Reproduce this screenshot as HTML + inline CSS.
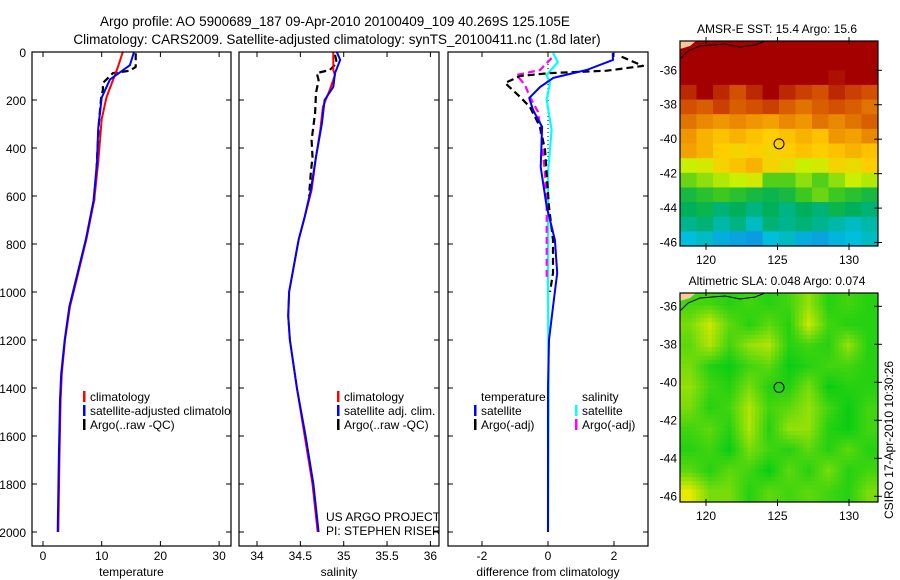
<!DOCTYPE html>
<html><head><meta charset="utf-8"><style>
body{margin:0;background:#fff;}
svg{display:block;font-family:"Liberation Sans",sans-serif;}
text{fill:#000;}
</style></head><body>
<svg id="fig" width="900" height="580" viewBox="0 0 900 580">
<text x="335" y="26" font-size="13.5" text-anchor="middle">Argo profile: AO 5900689_187 09-Apr-2010 20100409_109 40.269S 125.105E</text>
<text x="337" y="44" font-size="13.5" text-anchor="middle">Climatology: CARS2009. Satellite-adjusted climatology: synTS_20100411.nc (1.8d later)</text>
<g id="plots"></g>
<text transform="translate(893,440) rotate(-90)" font-size="12" text-anchor="middle">CSIRO 17-Apr-2010 10:30:26</text>
</svg>
<script>
// ---- data ----
const tempDepthClim=[0,60,190,280,460,620,780,950,1060,1200,1340,1450,1700,2000];
const tempClim=[13.6,12.8,10.8,10.0,9.4,8.7,7.4,5.7,4.6,3.75,3.2,3.0,2.8,2.6];
const tempDepthSat=[0,55,115,190,320,460,620,780,950,1060,1200,1340,1450,1700,2000];
const tempSat=[15.5,14.8,11.4,10.0,9.4,9.2,8.6,7.3,5.6,4.5,3.7,3.1,2.9,2.7,2.5];
const tempDepthArgo=[5,25,62,78,88,129,158,192,300,400,500,620];
const tempArgo=[15.8,15.8,15.8,14.8,11.9,10.2,10.2,9.9,9.5,9.3,9.1,8.7];
const salDepthClim=[0,12,75,96,158,229,325,437,575,687,783,1000,1100,1200,1400,1600,1800,2000];
const salClim=[34.88,34.88,34.88,34.90,34.84,34.76,34.73,34.68,34.63,34.55,34.48,34.37,34.36,34.38,34.46,34.55,34.64,34.70];
const salDepthSat=[0,33,88,146,200,296,437,575,687,783,1000,1100,1200,1400,1600,1800,2000];
const salSat=[34.92,34.96,34.90,34.88,34.78,34.75,34.68,34.62,34.55,34.48,34.37,34.36,34.38,34.46,34.56,34.65,34.71];
const salDepthArgo=[12,46,75,88,117,171,254,367,437,504,600];
const salArgo=[34.90,34.92,34.84,34.69,34.71,34.68,34.67,34.63,34.64,34.62,34.60];
const diffDepthSatT=[4,33,75,108,146,192,242,312,479,645,783,921,1062,1200,1400,2000];
const diffSatT=[1.96,1.97,1.17,0.16,-0.24,-0.57,-0.45,-0.18,-0.22,-0.04,0.21,0.28,0.15,0.03,0.0,0.0];
const diffDepthArgoT=[20,58,78,88,100,129,187,229,312,408,645,783,921,1000];
const diffArgoT=[2.23,2.88,1.78,0.06,-0.85,-1.30,-0.85,-0.55,-0.24,-0.09,0.03,0.15,0.15,0.06];
const diffDepthSatS=[4,42,96,129,200,325,504,700,1000,1400,2000];
const diffSatS=[0.15,0.3,-0.04,0.06,-0.04,0.11,0.0,0.0,0.0,0.02,0.0];
const diffDepthArgoS=[25,75,96,137,187,250,367,504,645,950];
const diffArgoS=[0.11,-0.24,-0.95,-0.7,-0.55,-0.3,-0.19,-0.09,-0.04,-0.04];
const depthTicks=[0,200,400,600,800,1000,1200,1400,1600,1800,2000];
const tempTicks=[0,10,20,30];
const salTicks=[34,34.5,35,35.5,36];
const salTickLabels=["34","34.5","35","35.5","36"];
const diffTicks=[-2,0,2];
const latTicks=[-36,-38,-40,-42,-44,-46];
const lonTicks=[120,125,130];
const sstGrid=[
[1,1,1,1,1,1,1,1,1,1,1,1],
[1,1,1,1,1,1,1,1,1,1,1,1],
[1,1,1,1,1,1,1,1,1,0.98,1,1],
[0.95,1,0.95,0.9,0.95,1,0.95,0.92,0.9,0.95,0.92,0.9],
[0.9,0.88,0.92,0.88,0.9,0.92,0.88,0.85,0.88,0.9,0.88,0.85],
[0.85,0.82,0.8,0.82,0.8,0.78,0.82,0.8,0.85,0.82,0.85,0.88],
[0.8,0.75,0.72,0.75,0.72,0.7,0.72,0.75,0.72,0.8,0.78,0.82],
[0.78,0.75,0.7,0.68,0.7,0.68,0.7,0.72,0.7,0.72,0.75,0.72],
[0.6,0.62,0.68,0.72,0.75,0.68,0.65,0.6,0.62,0.68,0.66,0.7],
[0.52,0.55,0.58,0.6,0.62,0.5,0.5,0.55,0.5,0.55,0.6,0.58],
[0.42,0.45,0.48,0.45,0.42,0.4,0.42,0.48,0.52,0.48,0.45,0.42],
[0.38,0.4,0.36,0.38,0.35,0.38,0.35,0.38,0.36,0.4,0.38,0.36],
[0.34,0.36,0.32,0.35,0.3,0.36,0.34,0.36,0.34,0.32,0.3,0.32],
[0.28,0.3,0.26,0.25,0.24,0.28,0.3,0.26,0.25,0.27,0.28,0.3]];
const slaGrid=[
[0.3,0.3,0.2,0.3,0.2,0.3,0.6,0.2,0.3,0.2],
[0.5,0.8,0.4,0.2,0.4,0.2,0.8,0.3,0.2,0.2],
[0.4,0.7,0.3,0.6,0.7,0.2,0.3,0.2,0.6,0.2],
[0.5,0.2,0.1,0.3,0.4,0.1,0.2,0.3,0.3,0.2],
[0.6,0.3,0.2,0.5,0.2,0.2,0.5,0.1,0.2,0.2],
[0.5,0.2,0.3,0.7,0.3,0.4,0.6,0.3,0.1,0.3],
[0.3,0.4,0.2,0.7,0.2,0.6,0.6,0.2,0.1,0.3],
[0.2,0.3,0.1,0.5,0.3,0.2,0.4,0.2,0.4,0.2],
[0.4,0.2,0.4,0.3,0.1,0.4,0.2,0.5,0.2,0.3],
[0.9,0.5,0.5,0.2,0.4,0.3,0.4,0.3,0.2,0.5]];
const argoLon=125.105, argoLat=-40.269;

// ---- helpers ----
const NS="http://www.w3.org/2000/svg";
const root=document.getElementById('plots');
function mk(tag,attrs,parent){const e=document.createElementNS(NS,tag);for(const k in attrs)e.setAttribute(k,attrs[k]);(parent||root).appendChild(e);return e;}
const yD=d=>52+d*0.24;
function panel(x0,x1,xs,ticks,labels,xlabel,name,showDepth){
  const g=mk('g',{});
  
  
  const cp=mk('clipPath',{id:'clip-'+name},g);
  mk('rect',{x:x0,y:52,width:x1-x0,height:494},cp);
  const series=mk('g',{'clip-path':'url(#clip-'+name+')'},g);
  const frame=mk('rect',{x:x0,y:52,width:x1-x0,height:494,fill:'none',stroke:'#000','stroke-width':1.2},g);
  
  
  depthTicks.forEach(d=>{
    mk('line',{x1:x0,x2:x0+5,y1:yD(d),y2:yD(d),stroke:'#000'},g);
    mk('line',{x1:x1-5,x2:x1,y1:yD(d),y2:yD(d),stroke:'#000'},g);
    if(showDepth){const t=mk('text',{x:x0-6,y:yD(d)+5,'font-size':12,'text-anchor':'end'},g);t.textContent=d;
      
      }
  });
  ticks.forEach((v,i)=>{
    const x=xs(v);
    mk('line',{x1:x,x2:x,y1:546,y2:541,stroke:'#000'},g);
    mk('line',{x1:x,x2:x,y1:52,y2:57,stroke:'#000'},g);
    const t=mk('text',{x:x,y:560,'font-size':12,'text-anchor':'middle'},g);t.textContent=labels[i];
    
    
  });
  const xl=mk('text',{x:(x0+x1)/2,y:576,'font-size':12,'text-anchor':'middle'},g);xl.textContent=xlabel;
  
  
  return series;
}
function line(parent,xs,vals,depths,color,w,dash,name){
  const pts=vals.map((v,i)=>xs(v).toFixed(1)+','+yD(depths[i]).toFixed(1)).join(' ');
  const p=mk('polyline',{points:pts,fill:'none',stroke:color,'stroke-width':w,'stroke-dasharray':dash||'none','stroke-linejoin':'round'},parent);
  
  
}
function legend(parent,x,y,items){
  items.forEach((it,i)=>{
    if(it.c) mk('rect',{x:x-7,y:y+i*14-6,width:2.5,height:11,fill:it.c},parent);
    const t=mk('text',{x:x,y:y+i*14+4,'font-size':12},parent);t.textContent=it.t;
    
    
  });
}

// ---- temperature panel ----
const xT=v=>43+v*5.87;
const gT=panel(32,231,xT,tempTicks,tempTicks.map(String),'temperature','temperature-panel',true);
line(gT,xT,tempArgo,tempDepthArgo,'#000',2.2,'7,4','argo-temperature-line');
line(gT,xT,tempClim,tempDepthClim,'#f00',2,null,'climatology-temperature-line');
line(gT,xT,tempSat,tempDepthSat,'#00f',2,null,'satellite-temperature-line');
legend(gT,90,397,[{t:'climatology',c:'#f00'},{t:'satellite-adjusted climatology',c:'#00f'},{t:'Argo(..raw -QC)',c:'#000'}]);

// ---- salinity panel ----
const xS=v=>257+(v-34)*86.7;
const gS=panel(239,439,xS,salTicks,salTickLabels,'salinity','salinity-panel',false);
line(gS,xS,salArgo,salDepthArgo,'#000',2.2,'7,4','argo-salinity-line');
line(gS,xS,salClim,salDepthClim,'#f00',2,null,'climatology-salinity-line');
line(gS,xS,salSat,salDepthSat,'#00f',2,null,'satellite-salinity-line');
legend(gS,344,397,[{t:'climatology',c:'#f00'},{t:'satellite adj. clim.',c:'#00f'},{t:'Argo(..raw -QC)',c:'#000'}]);
legend(gS,326,517,[{t:'US ARGO PROJECT'},{t:'PI: STEPHEN RISER'}]);

// ---- difference panel ----
const xDf=v=>548+v*33;
const gD=panel(448,648,xDf,diffTicks,diffTicks.map(String),'difference from climatology','difference-panel',false);
mk('line',{x1:xDf(0),x2:xDf(0),y1:52,y2:yD(1000),stroke:'#000','stroke-width':1,'stroke-dasharray':'1,3'},gD);
line(gD,xDf,diffSatS,diffDepthSatS,'#0ff',2.2,null,'satellite-salinity-diff-line');
line(gD,xDf,diffArgoS,diffDepthArgoS,'#f0f',2.2,'7,4','argo-salinity-diff-line');
line(gD,xDf,diffArgoT,diffDepthArgoT,'#000',2.2,'7,4','argo-temperature-diff-line');
line(gD,xDf,diffSatT,diffDepthSatT,'#00f',2,null,'satellite-temperature-diff-line');
legend(gD,481,397,[{t:'temperature'},{t:'satellite',c:'#00f'},{t:'Argo(-adj)',c:'#000'}]);
legend(gD,582,397,[{t:'salinity'},{t:'satellite',c:'#0ff'},{t:'Argo(-adj)',c:'#f0f'}]);

// ---- maps ----
const stops=[[0.2,[20,120,230]],[0.28,[0,190,220]],[0.38,[0,175,90]],[0.48,[60,200,30]],[0.6,[200,240,0]],[0.7,[255,205,0]],[0.8,[240,150,0]],[0.9,[210,80,0]],[1,[165,0,0]]];
function jet(v){for(let i=1;i<stops.length;i++){if(v<=stops[i][0]){const a=stops[i-1],b=stops[i];const f=Math.max(0,(v-a[0])/(b[0]-a[0]));return 'rgb('+a[1].map((c,k)=>Math.round(c+(b[1][k]-c)*f)).join(',')+')';}}return 'rgb(165,0,0)';}
function slaCol(v){const a=[10,205,20],b=[230,235,0];const f=Math.min(1,Math.max(0,(v-0.1)/0.8));return 'rgb('+a.map((c,k)=>Math.round(c+(b[k]-c)*f)).join(',')+')';}
function map(y0,y1,latTop,latBot,grid,colf,title,name,sub){
  const x0=680,x1=878;
  const g=mk('g',{});
  
  
  const rows=grid.length,cols=grid[0].length,cw=(x1-x0)/cols,rh=(y1-y0)/rows;
  if(sub){
    const R=rows*sub,C=cols*sub,sw=(x1-x0)/C,sh=(y1-y0)/R;
    const at=(r,c)=>grid[Math.min(rows-1,Math.max(0,r))][Math.min(cols-1,Math.max(0,c))];
    for(let r=0;r<R;r++)for(let c=0;c<C;c++){
      const fr=(r+0.5)/sub-0.5,fc=(c+0.5)/sub-0.5;
      const r0=Math.floor(fr),c0=Math.floor(fc),tr=fr-r0,tc=fc-c0;
      const v=at(r0,c0)*(1-tr)*(1-tc)+at(r0,c0+1)*(1-tr)*tc+at(r0+1,c0)*tr*(1-tc)+at(r0+1,c0+1)*tr*tc;
      const cell=mk('rect',{x:x0+c*sw,y:y0+r*sh,width:sw+0.5,height:sh+0.5,fill:colf(v)},g);
      
      
    }
  } else {
  grid.forEach((row,r)=>row.forEach((v,c)=>{
    const cell=mk('rect',{x:x0+c*cw,y:y0+r*rh,width:cw+0.5,height:rh+0.5,fill:colf(v)},g);
    
    
  }));
  }
  mk('path',{d:`M${x0},${y0} L${x0+16},${y0} L${x0+10},${y0+5} L${x0},${y0+8}Z`,fill:'#fcc99c'},g);
  mk('path',{d:`M${x0},${y0+18} L${x0+8},${y0+10} L${x0+20},${y0+5} L${x0+45},${y0+3} L${x0+60},${y0+6} L${x0+75},${y0+4} L${x0+85},${y0}`,fill:'none',stroke:'#000','stroke-width':1},g);
  const lx=v=>706+(v-120)*14.3, ly=v=>y0+(latTop-v)/(latTop-latBot)*(y1-y0);
  mk('rect',{x:x0,y:y0,width:x1-x0,height:y1-y0,fill:'none',stroke:'#000','stroke-width':1.2},g);
  latTicks.forEach(v=>{
    mk('line',{x1:x1-4,x2:x1+4,y1:ly(v),y2:ly(v),stroke:'#000'},g);
    const t=mk('text',{x:x0-3,y:ly(v)+4,'font-size':12,'text-anchor':'end'},g);t.textContent=v;
    
    
  });
  lonTicks.forEach(v=>{
    mk('line',{x1:lx(v),x2:lx(v),y1:y0-4,y2:y0+3,stroke:'#000'},g);
    mk('line',{x1:lx(v),x2:lx(v),y1:y1-3,y2:y1+4,stroke:'#000'},g);
    const t=mk('text',{x:lx(v),y:y1+18,'font-size':12,'text-anchor':'middle'},g);t.textContent=v;
    
    
  });
  const c=mk('circle',{cx:lx(argoLon),cy:ly(argoLat),r:5,fill:'none',stroke:'#000','stroke-width':1},g);
  
  
  const tt=mk('text',{x:777,y:y0-8,'font-size':12,'text-anchor':'middle'},g);tt.textContent=title;
  
  
}
map(41,246,-34.3,-46.2,sstGrid,jet,'AMSR-E SST: 15.4 Argo: 15.6','sst-map',0);
map(293,502,-35.3,-46.3,slaGrid,slaCol,'Altimetric SLA: 0.048 Argo: 0.074','sla-map',5);
</script>
</body></html>
